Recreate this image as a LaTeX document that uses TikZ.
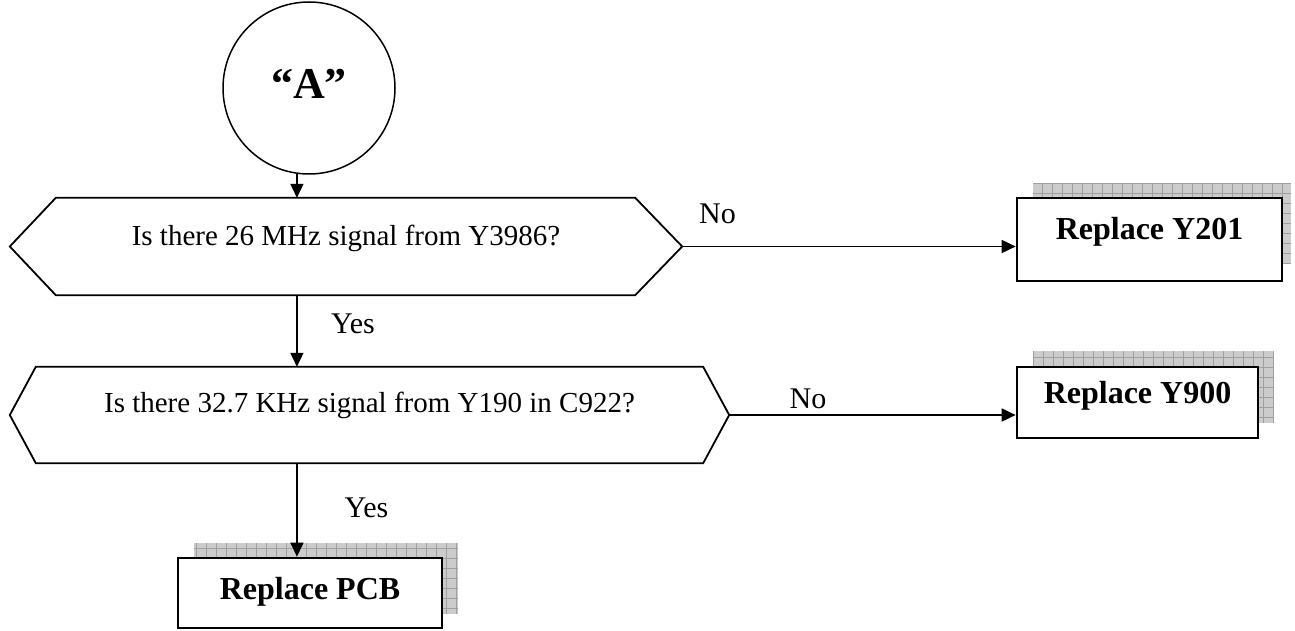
\documentclass[tikz,border=0pt]{standalone}
\usepackage{fontspec}
\setmainfont{Liberation Serif}
\usetikzlibrary{arrows.meta,calc}
\begin{document}
\begin{tikzpicture}[x=1pt,y=-1pt,
  conn/.style={line width=1.7pt,-{Triangle[length=14pt,width=13pt]}},
  lbl/.style={font=\fontsize{30}{34}\selectfont, inner sep=0pt, anchor=base},
  decision/.style={inner sep=0pt, font=\fontsize{29}{33}\selectfont, text height=19.2pt},
  hexline/.style={line width=1.8pt, line join=miter},
  actbox/.style={draw, line width=2.7pt, fill=white, inner sep=0pt,
    font=\bfseries\fontsize{32}{36}\selectfont, text height=21.2pt},
  startnode/.style={draw, circle, line width=1.5pt, inner sep=0pt, minimum size=172pt,
    font=\bfseries\fontsize{44}{48}\selectfont, text height=29pt, text depth=8pt},
  shadebox/.style={fill=gray!40, inner sep=0pt,
    path picture={\draw[draw=gray!75, line width=0.6pt, step=10pt]
      (path picture bounding box.south west) grid (path picture bounding box.north east);}}
]
\useasboundingbox (0,0) rectangle (1295,631);

% start
\node[startnode] (A) at (309,88) {“A”};

% decisions
\node[decision, minimum width=672pt, minimum height=97pt, text depth=22pt] (q1) at (346,246.5)
  {Is there 26 MHz signal from Y3986?};
\draw[hexline] (q1.west) -- ($(q1.north west)+(46,0)$) -- ($(q1.north east)+(-47,0)$)
  -- (q1.east) -- ($(q1.south east)+(-47,0)$) -- ($(q1.south west)+(46,0)$) -- cycle;

\node[decision, minimum width=719pt, minimum height=96pt, text depth=25pt] (q2) at (369.5,415)
  {Is there 32.7 KHz signal from Y190 in C922?};
\draw[hexline] (q2.west) -- ($(q2.north west)+(26,0)$) -- ($(q2.north east)+(-26,0)$)
  -- (q2.east) -- ($(q2.south east)+(-26,0)$) -- ($(q2.south west)+(26,0)$) -- cycle;

% shadows of the action boxes
\node[shadebox, minimum width=258pt, minimum height=80pt] (y201s) at (1162,223) {};
\node[shadebox, minimum width=241pt, minimum height=72pt] (y900s) at (1153.5,387) {};
\node[shadebox, minimum width=264pt, minimum height=71pt] (pcbs) at (326,578.5) {};

% action boxes
\node[actbox, minimum width=265pt, minimum height=83pt, text depth=21pt] (y201) at (1149.5,239.5) {Replace Y201};
\node[actbox, minimum width=241pt, minimum height=71pt, text depth=20pt] (y900) at (1137.5,402.5) {Replace Y900};
\node[actbox, minimum width=264pt, minimum height=70pt, text depth=8pt] (pcb) at (310,593) {Replace PCB};

% connectors
\draw[conn] (A.262) -- (A.262 |- q1.north);
\draw[conn] (A.262 |- q1.south) -- (A.262 |- q2.north);
\draw[conn] (A.262 |- q2.south) -- (A.262 |- pcb.north);
\draw[conn] (q1.east) -- (q1.east -| y201.west);
\draw[conn] (q2.east) -- (q2.east -| y900.west);

% labels
\node[lbl] (no1) at (717.5,223) {No};
\node[lbl] (yes1) at (353,333) {Yes};
\node[lbl] (no2) at (808,408) {No};
\node[lbl] (yes2) at (366.5,517) {Yes};
\end{tikzpicture}
\end{document}
